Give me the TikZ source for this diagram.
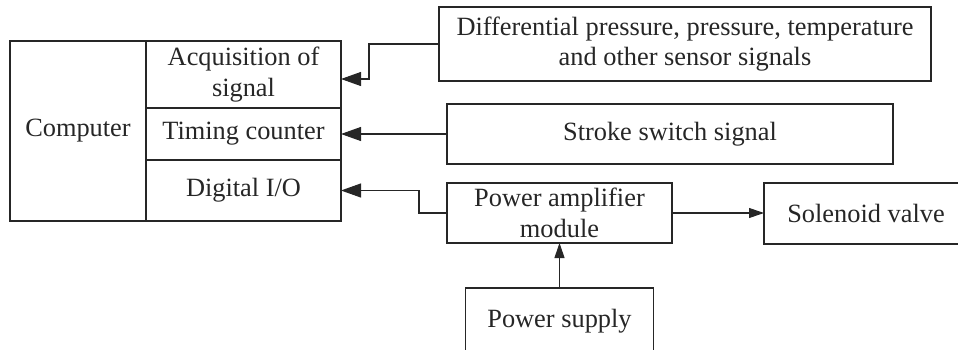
\documentclass[tikz,border=0pt]{standalone}
\usepackage{fontspec}
\setmainfont{Liberation Serif}
\usetikzlibrary{arrows.meta, positioning}

\begin{document}
\begin{tikzpicture}[>={Triangle[length=0.4cm, width=0.28cm]}, line width=0.6pt,
    draw=black!85, text=black!85,
    box/.style={draw=black!85, inner sep=0pt, outer sep=0pt, align=center,
                font=\fontsize{15}{17.5}\selectfont},
    cell/.style={box, minimum width=3.9cm},
    small/.style={-{Triangle[length=0.3cm, width=0.2cm]}}]
  \clip (0,0) rectangle (19.16,6.98);
  % computer and its three parts
  \node[box, minimum width=2.72cm, minimum height=3.6cm] (comp) at (1.56,4.36)
    {Computer};
  \node[cell, minimum height=1.34cm] (acq) at (4.87,5.49)
    {Acquisition of\\signal};
  \node[cell, minimum height=1.04cm] (tim) at (4.87,4.30) {Timing counter};
  \node[cell, minimum height=1.22cm] (dio) at (4.87,3.17) {Digital I/O};
  % signal sources and outputs
  \node[box, minimum width=9.84cm, minimum height=1.48cm] (sens) at (13.70,6.10)
    {Differential pressure, pressure, temperature\\and other sensor signals};
  \node[box, minimum width=8.92cm, minimum height=1.2cm] (stroke) at (13.40,4.30)
    {Stroke switch signal};
  \node[box, minimum width=4.5cm, minimum height=1.2cm] (pam) at (11.19,2.72)
    {Power amplifier\\module};
  \node[box, minimum width=4.08cm, minimum height=1.22cm] (sol) at (17.32,2.71)
    {Solenoid valve};
  \node[box, minimum width=3.76cm, minimum height=1.34cm] (sup) at (11.19,0.55)
    {Power supply};
  \draw[->, draw=black!85] (sens.west) -- ++(-1.40,0) |- ([yshift=-0.09cm]acq.east);
  \draw[->, draw=black!85] (stroke.west) -- (tim.east);
  \draw[->, draw=black!85] (pam.west) -- ++(-0.56,0) |- (dio.east);
  \draw[small, draw=black!85] (pam.east) -- (pam.east -| sol.west);
  \draw[small, draw=black!85] (sup.north) -- (sup.north |- pam.south);
\end{tikzpicture}
\end{document}
